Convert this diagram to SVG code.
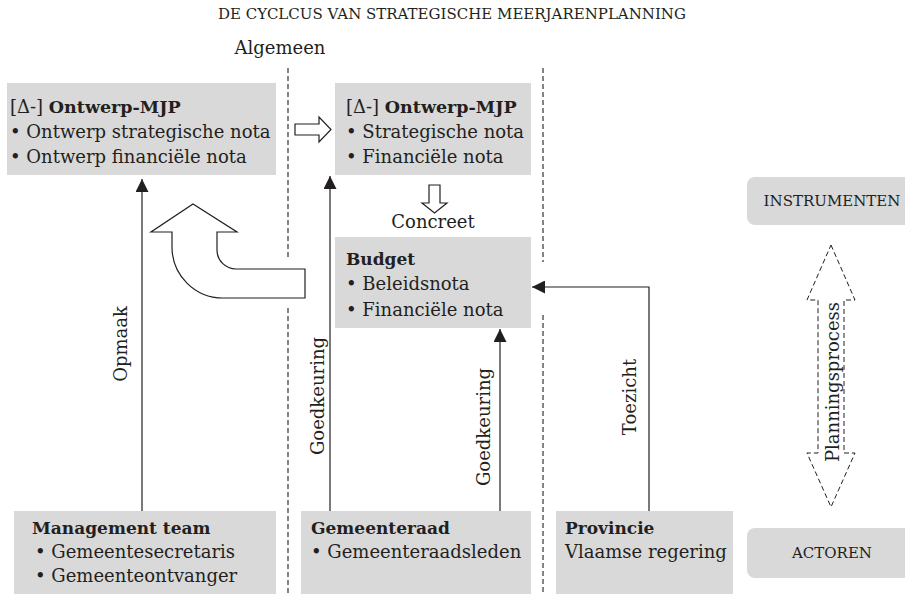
<svg xmlns="http://www.w3.org/2000/svg" width="905" height="594" viewBox="0 0 905 594">
<style>
text{font-family:"DejaVu Serif","Liberation Serif",serif;fill:#231f20;font-size:18px}
.b{font-weight:bold;font-size:17px}
.bt{font-weight:bold;font-size:17.5px}
.box{fill:#d9d9d9}
.cap{font-size:15px;text-anchor:middle}
.dash{stroke:#333;stroke-width:1.2;stroke-dasharray:5 3;fill:none}
.ln{stroke:#231f20;stroke-width:1.2;fill:none}
.hollow{fill:#fff;stroke:#231f20;stroke-width:1.2;stroke-linejoin:miter}
.lbl{text-anchor:middle}
</style>
<defs>
<marker id="ah" markerUnits="userSpaceOnUse" markerWidth="13" markerHeight="13" refX="13" refY="6.5" orient="auto">
<path d="M0,0 L13,6.5 L0,13 Z" fill="#231f20"/>
</marker>
</defs>
<rect width="905" height="594" fill="#fff"/>
<text x="452" y="19" class="cap">DE CYCLCUS VAN STRATEGISCHE MEERJARENPLANNING</text>
<text x="280" y="54" class="lbl">Algemeen</text>
<g id="dividers">
<path class="dash" d="M288,68 V258 M288,308 V594"/>
<path class="dash" d="M543,68 V262 M543,315 V594"/>
</g>
<g id="ontwerp-mjp-1">
<rect class="box" x="7" y="83" width="269" height="92"/>
<text x="10" y="113">[Δ-] <tspan class="bt">Ontwerp-MJP</tspan></text>
<text x="10" y="138">• Ontwerp strategische nota</text>
<text x="10" y="163">• Ontwerp financiële nota</text>
</g>
<g id="ontwerp-mjp-2">
<rect class="box" x="335" y="83" width="196" height="92"/>
<text x="346" y="113">[Δ-] <tspan class="bt">Ontwerp-MJP</tspan></text>
<text x="346" y="138">• Strategische nota</text>
<text x="346" y="163">• Financiële nota</text>
</g>
<g id="budget">
<rect class="box" x="335" y="237" width="196" height="91"/>
<text x="346" y="265" class="b">Budget</text>
<text x="346" y="290">• Beleidsnota</text>
<text x="346" y="316">• Financiële nota</text>
</g>
<text x="433" y="228" class="lbl">Concreet</text>
<g id="management-team">
<rect class="box" x="14" y="511" width="262" height="90"/>
<text x="32" y="534" class="b">Management team</text>
<text x="35" y="558">• Gemeentesecretaris</text>
<text x="35" y="582">• Gemeenteontvanger</text>
</g>
<g id="gemeenteraad">
<rect class="box" x="301" y="511" width="230" height="90"/>
<text x="311" y="534" class="b">Gemeenteraad</text>
<text x="311" y="558">• Gemeenteraadsleden</text>
</g>
<g id="provincie">
<rect class="box" x="556" y="511" width="177" height="90"/>
<text x="565" y="534" class="b">Provincie</text>
<text x="565" y="558">Vlaamse regering</text>
</g>
<g id="instrumenten">
<rect class="box" x="747" y="177" width="170" height="48" rx="8"/>
<text x="832" y="206" class="cap">INSTRUMENTEN</text>
</g>
<g id="actoren">
<rect class="box" x="747" y="528" width="170" height="50" rx="8"/>
<text x="832" y="558" class="cap">ACTOREN</text>
</g>
<g id="connectors">
<path class="ln" d="M142,511 V179" marker-end="url(#ah)"/>
<path class="ln" d="M330,511 V176" marker-end="url(#ah)"/>
<path class="ln" d="M500,511 V329" marker-end="url(#ah)"/>
<path class="ln" d="M649,511 V287 H532" marker-end="url(#ah)"/>
<path class="hollow" d="M295,124 H319 V117 L331,129.5 L319,142 V135 H295 Z"/>
<path class="hollow" d="M429,185 H440 V203 H447 L434.5,213 L422,203 H429 Z"/>
<path class="hollow" d="M305,269 H236 A19,19 0 0 1 217,250 V232 H237 L193,204 L151,232 H172 V247 A51,51 0 0 0 223,298 H305 Z"/>
<path d="M831,245 L855,300 H844 V453 H855 L831,507 L807,453 H818 V300 H807 Z" fill="none" stroke="#231f20" stroke-width="1" stroke-dasharray="5 3"/>
<text transform="translate(127,344) rotate(-90)" class="lbl">Opmaak</text>
<text transform="translate(324,396) rotate(-90)" class="lbl">Goedkeuring</text>
<text transform="translate(490,427) rotate(-90)" class="lbl">Goedkeuring</text>
<text transform="translate(636,397) rotate(-90)" class="lbl">Toezicht</text>
<text transform="translate(839,382) rotate(-90)" class="lbl">Planningsprocess</text>
</g>
</svg>
